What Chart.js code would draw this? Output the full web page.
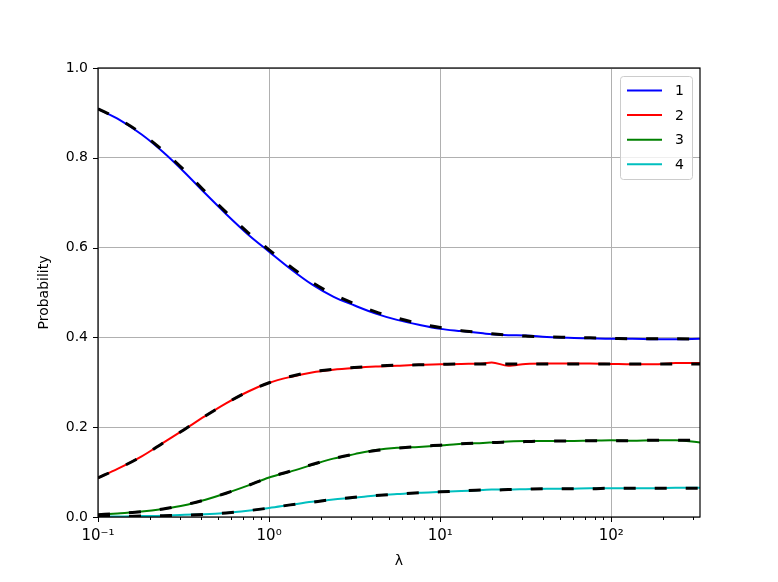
<!DOCTYPE html>
<html>
<head>
<meta charset="utf-8">
<script src="https://cdn.jsdelivr.net/npm/chart.js@4/dist/chart.umd.min.js"></script>
<style>
  body { margin: 0; background: #fff; }
  #wrap { width: 778px; height: 582px; }
</style>
</head>
<body>
<div id="wrap"><canvas id="chart" width="778" height="582"></canvas></div>
<script>
// lambda values (x axis, log scale)
const lambdas = [0.1, 0.13, 0.18, 0.24, 0.32, 0.42, 0.56, 0.75, 1, 1.33, 1.78, 2.37, 3.16, 4.2, 5.6, 7.5,
  10, 13.3, 17.8, 20, 25, 31.6, 42, 56, 75, 100, 133, 178, 237, 330];

// simulated probabilities (solid coloured lines)
const p1 = [0.909, 0.887, 0.852, 0.813, 0.768, 0.722, 0.675, 0.630, 0.591, 0.553, 0.518, 0.491, 0.471, 0.453, 0.439, 0.428,
  0.419, 0.414, 0.409, 0.407, 0.405, 0.404, 0.401, 0.399, 0.398, 0.397, 0.397, 0.396, 0.396, 0.397];
const p2 = [0.087, 0.107, 0.135, 0.165, 0.195, 0.224, 0.253, 0.279, 0.299, 0.312, 0.322, 0.328, 0.332, 0.335, 0.337, 0.339,
  0.340, 0.341, 0.342, 0.344, 0.337, 0.341, 0.342, 0.342, 0.342, 0.341, 0.340, 0.340, 0.343, 0.343];
const p3 = [0.005, 0.008, 0.012, 0.018, 0.026, 0.038, 0.053, 0.070, 0.088, 0.101, 0.116, 0.130, 0.140, 0.149, 0.154, 0.156,
  0.159, 0.163, 0.165, 0.166, 0.168, 0.169, 0.169, 0.169, 0.170, 0.171, 0.170, 0.171, 0.171, 0.166];
const p4 = [0.001, 0.001, 0.002, 0.003, 0.005, 0.006, 0.009, 0.014, 0.020, 0.027, 0.034, 0.039, 0.043, 0.048, 0.051, 0.054,
  0.056, 0.058, 0.060, 0.061, 0.061, 0.062, 0.063, 0.063, 0.064, 0.064, 0.064, 0.064, 0.065, 0.065];

// theoretical probabilities (black dashed lines)
const q1 = [0.909, 0.888, 0.854, 0.816, 0.772, 0.726, 0.679, 0.634, 0.595, 0.558, 0.523, 0.496, 0.475, 0.457, 0.443, 0.431,
  0.422, 0.415, 0.410, 0.408, 0.405, 0.403, 0.401, 0.400, 0.399, 0.398, 0.397, 0.397, 0.397, 0.396];
const q2 = [0.087, 0.107, 0.135, 0.165, 0.195, 0.224, 0.253, 0.279, 0.299, 0.313, 0.323, 0.329, 0.333, 0.336, 0.338, 0.339,
  0.340, 0.341, 0.341, 0.341, 0.341, 0.341, 0.341, 0.341, 0.341, 0.341, 0.341, 0.341, 0.341, 0.341];
const q3 = [0.005, 0.008, 0.012, 0.018, 0.027, 0.038, 0.053, 0.070, 0.088, 0.102, 0.117, 0.130, 0.140, 0.148, 0.153, 0.157,
  0.160, 0.163, 0.165, 0.166, 0.167, 0.168, 0.169, 0.169, 0.170, 0.170, 0.170, 0.171, 0.171, 0.171];
const q4 = [0.001, 0.001, 0.002, 0.003, 0.004, 0.006, 0.009, 0.014, 0.020, 0.027, 0.033, 0.039, 0.044, 0.048, 0.051, 0.054,
  0.056, 0.058, 0.060, 0.060, 0.061, 0.062, 0.063, 0.063, 0.063, 0.064, 0.064, 0.064, 0.064, 0.064];

const seriesLabels = ["1", "2", "3", "4"];
const seriesColors = ["#0000ff", "#ff0000", "#008000", "#00bfbf"];
const yTicks = [0, 0.2, 0.4, 0.6, 0.8, 1.0];
const xMajor = [0.1, 1, 10, 100];
const xMajorLabels = ["10\u207B\u00B9", "10\u2070", "10\u00B9", "10\u00B2"];
const xMin = 0.1, xMax = 330;

const FONT = "'DejaVu Sans', sans-serif";

// all log ticks (major + minor) inside the range
const xTicks = [];
for (let e = -1; e <= 2; e++) {
  for (let m = 1; m <= 9; m++) {
    const v = m * Math.pow(10, e);
    if (v >= xMin - 1e-9 && v <= xMax) xTicks.push(v);
  }
}
const isMajor = (v) => xMajor.some((m) => Math.abs(v - m) < 1e-9);

const pts = (arr) => lambdas.map((x, i) => ({ x, y: arr[i] }));
const solid = [p1, p2, p3, p4];
const theory = [q1, q2, q3, q4];

const datasets = [];
theory.forEach((q, i) => {
  datasets.push({
    label: "theory " + seriesLabels[i],
    data: pts(q),
    borderColor: "#000",
    borderWidth: 3,
    borderDash: [12, 19],
    pointRadius: 0,
    cubicInterpolationMode: "monotone",
    theory: true,
  });
});
solid.forEach((p, i) => {
  datasets.push({
    label: seriesLabels[i],
    data: pts(p),
    borderColor: seriesColors[i],
    borderWidth: 2,
    pointRadius: 0,
    cubicInterpolationMode: "monotone",
  });
});

// frame, tick marks and legend, matplotlib style
const axesDecor = {
  id: "axesDecor",
  afterDraw(chart) {
    const { ctx, chartArea: a, scales } = chart;
    ctx.save();
    ctx.strokeStyle = "#000";
    ctx.lineWidth = 1;
    ctx.beginPath();
    scales.x.ticks.forEach((t) => {
      const px = Math.round(scales.x.getPixelForValue(t.value)) + 0.5;
      const len = isMajor(t.value) ? 5 : 3;
      ctx.moveTo(px, a.bottom);
      ctx.lineTo(px, a.bottom + len);
    });
    scales.y.ticks.forEach((t) => {
      const py = Math.round(scales.y.getPixelForValue(t.value)) + 0.5;
      ctx.moveTo(a.left - 5, py);
      ctx.lineTo(a.left, py);
    });
    ctx.stroke();
    ctx.lineWidth = 1.2;
    ctx.strokeRect(a.left, a.top, a.right - a.left, a.bottom - a.top);

    // legend box
    const lx = 620.5, ly = 76.5, lw = 72, lh = 103;
    ctx.beginPath();
    ctx.roundRect(lx, ly, lw, lh, 3);
    ctx.fillStyle = "rgba(255,255,255,0.8)";
    ctx.fill();
    ctx.strokeStyle = "#cccccc";
    ctx.lineWidth = 1;
    ctx.stroke();
    ctx.font = "14px " + FONT;
    ctx.textBaseline = "middle";
    ctx.textAlign = "left";
    chart.data.datasets.filter((d) => !d.theory).forEach((d, i) => {
      const y = 90.5 + i * 24.6;
      ctx.strokeStyle = d.borderColor;
      ctx.lineWidth = 2;
      ctx.beginPath();
      ctx.moveTo(627, y);
      ctx.lineTo(662, y);
      ctx.stroke();
      ctx.fillStyle = "#000";
      ctx.fillText(d.label, 675, y + 1);
    });
    ctx.restore();
  },
};

new Chart(document.getElementById("chart"), {
  type: "line",
  data: { datasets },
  options: {
    responsive: false,
    animation: false,
    layout: { padding: { top: 68, right: 78, left: 0, bottom: 0 } },
    plugins: {
      legend: { display: false },
      tooltip: { enabled: false },
    },
    scales: {
      x: {
        type: "logarithmic",
        min: xMin,
        max: xMax,
        afterBuildTicks: (scale) => {
          scale.ticks = xTicks.map((v) => ({ value: v, major: isMajor(v) }));
        },
        afterFit: (scale) => { scale.height = 65; },
        grid: {
          color: (c) => (c.tick && isMajor(c.tick.value) ? "#b0b0b0" : "rgba(0,0,0,0)"),
          lineWidth: 1,
          drawTicks: false,
        },
        border: { display: false },
        ticks: {
          autoSkip: false,
          maxRotation: 0,
          padding: 10,
          color: "#000",
          font: { family: FONT, size: 15 },
          callback: (v) => {
            const k = xMajor.findIndex((m) => Math.abs(v - m) < 1e-9);
            return k >= 0 ? xMajorLabels[k] : "";
          },
        },
        title: {
          display: true,
          text: "\u03BB",
          color: "#000",
          font: { family: FONT, size: 14 },
          padding: { top: 0, bottom: 12 },
        },
      },
      y: {
        min: 0,
        max: 1,
        afterBuildTicks: (scale) => {
          scale.ticks = yTicks.map((v) => ({ value: v }));
        },
        afterFit: (scale) => { scale.width = 98; },
        grid: { color: "#b0b0b0", lineWidth: 1, drawTicks: false },
        border: { display: false },
        ticks: {
          padding: 10,
          color: "#000",
          font: { family: FONT, size: 14 },
          callback: (v) => v.toFixed(1),
        },
        title: {
          display: true,
          text: "Probability",
          color: "#000",
          font: { family: FONT, size: 14 },
          padding: { top: 36, bottom: 0 },
        },
      },
    },
  },
  plugins: [axesDecor],
});
</script>
</body>
</html>
